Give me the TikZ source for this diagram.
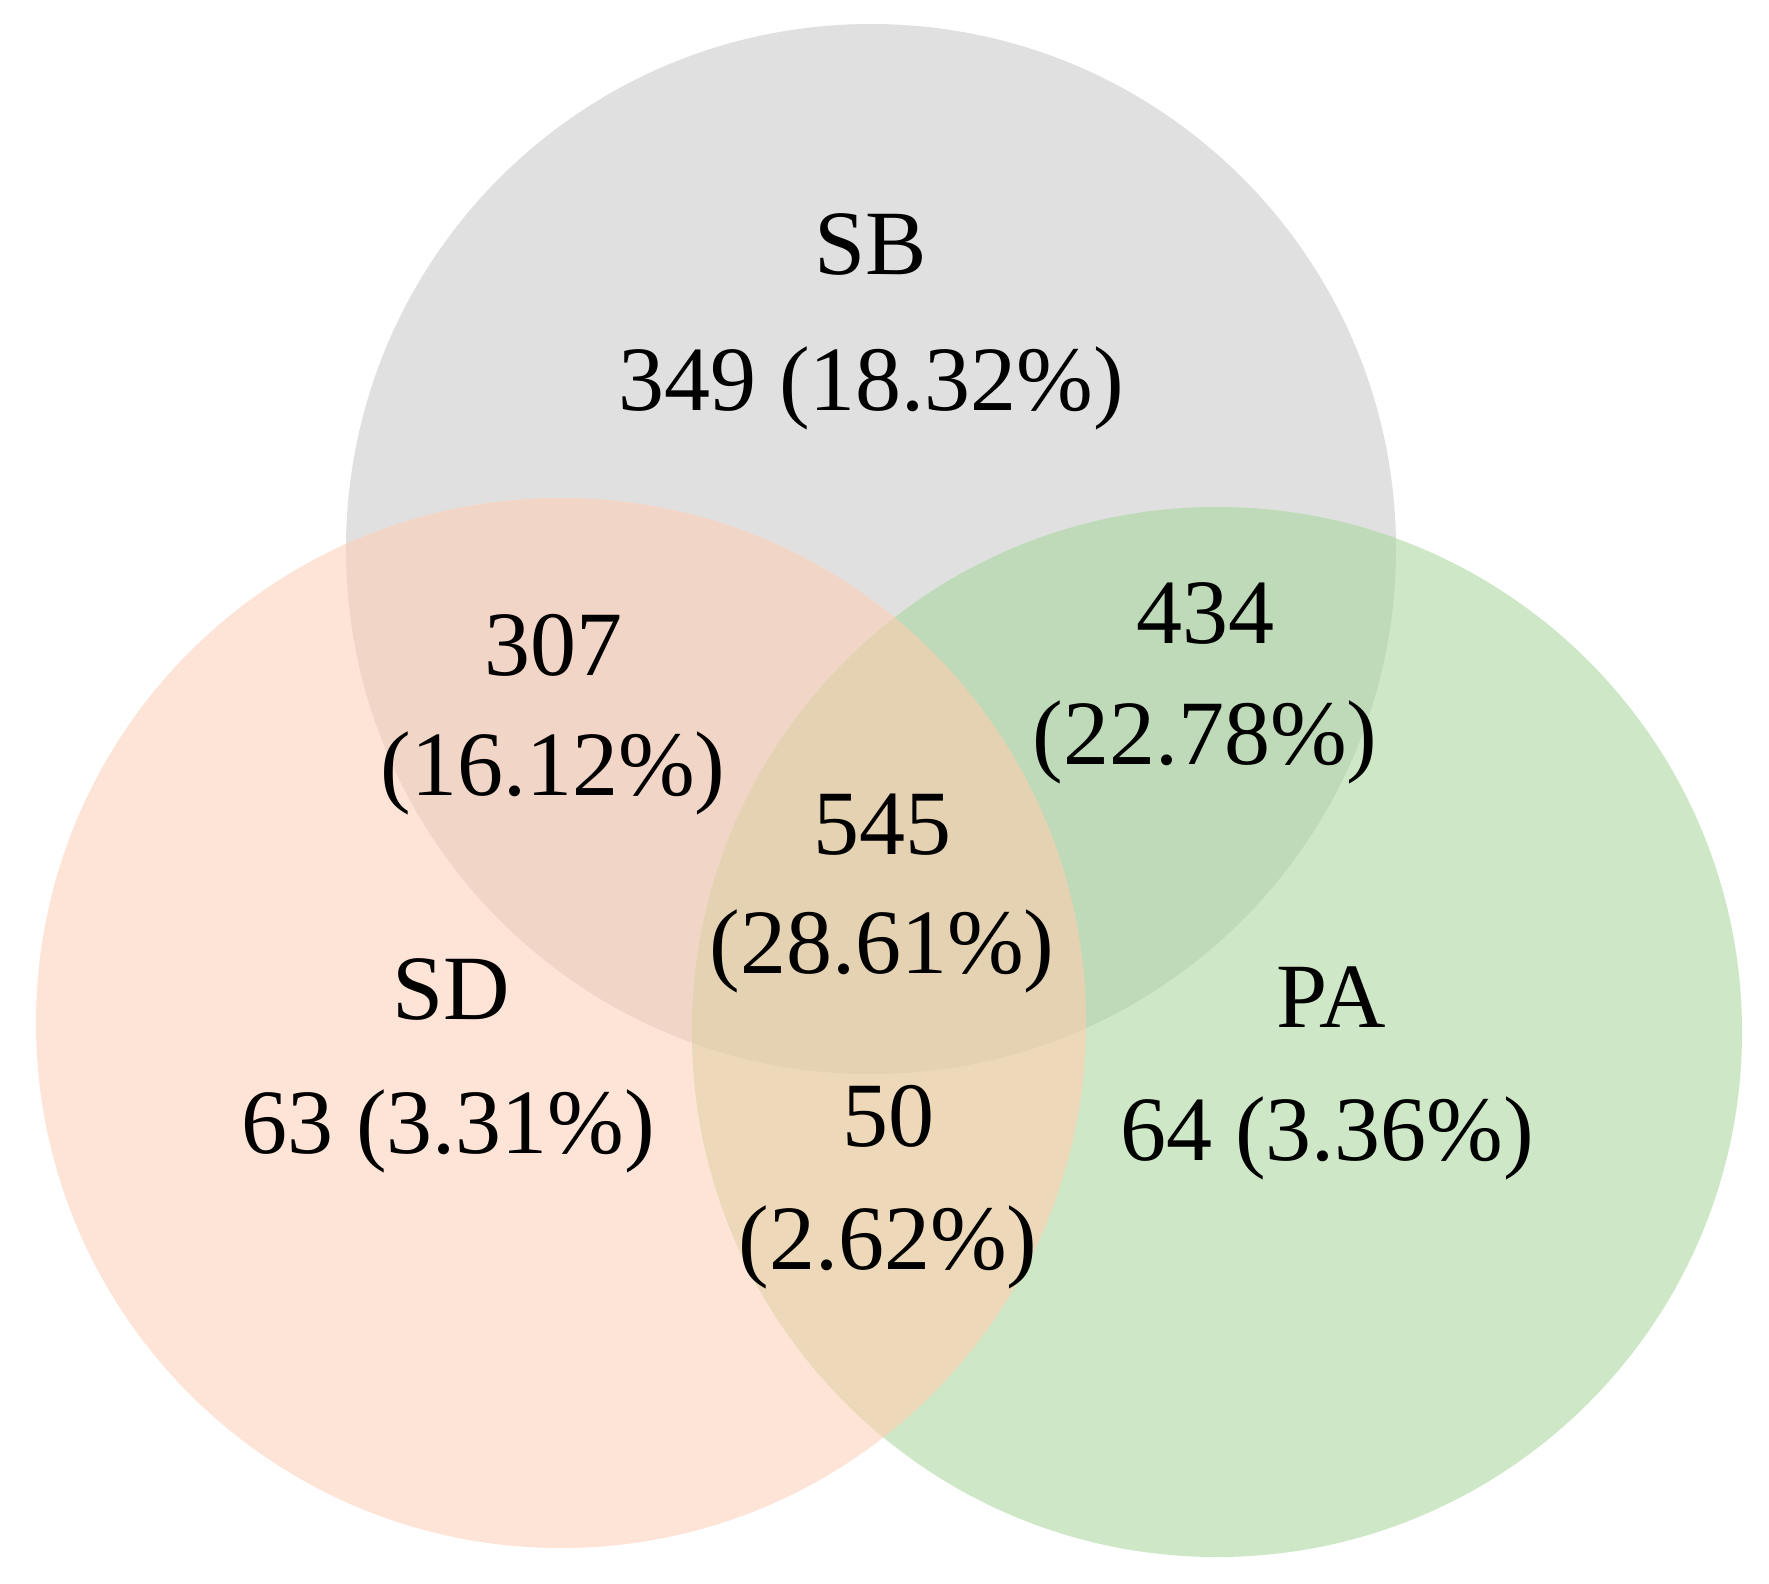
\documentclass[tikz,border=0pt]{standalone}
\usepackage{fontspec}
\setmainfont{Liberation Serif}
\definecolor{cgray}{HTML}{E0E0E0}
\definecolor{corange}{HTML}{FDE4D6}
\definecolor{cgreen}{HTML}{CEE8C7}
\definecolor{cSBSD}{HTML}{F1D5C7}
\definecolor{cSBPA}{HTML}{BEDAB8}
\definecolor{cSDPA}{HTML}{EDD9B9}
\definecolor{cALL}{HTML}{E4D2B3}
\begin{document}
\begin{tikzpicture}[x=1pt,y=-1pt,
  lbl/.style={anchor=base, inner sep=0pt, font=\fontsize{92}{110}\selectfont, text=black}]
\useasboundingbox (0,0) rectangle (1769,1583);
\fill[white] (0,0) rectangle (1769,1583);
\coordinate (cSB) at (871,549);
\coordinate (cSD) at (561,1023);
\coordinate (cPA) at (1217,1032);
\fill[cgray] (cSB) circle[radius=525pt];
\fill[corange] (cSD) circle[radius=525pt];
\fill[cgreen] (cPA) circle[radius=525pt];
\begin{scope}
  \clip (cSB) circle[radius=525pt];
  \fill[cSBSD] (cSD) circle[radius=525pt];
\end{scope}
\begin{scope}
  \clip (cSB) circle[radius=525pt];
  \fill[cSBPA] (cPA) circle[radius=525pt];
\end{scope}
\begin{scope}
  \clip (cSD) circle[radius=525pt];
  \fill[cSDPA] (cPA) circle[radius=525pt];
\end{scope}
\begin{scope}
  \clip (cSB) circle[radius=525pt];
  \clip (cSD) circle[radius=525pt];
  \fill[cALL] (cPA) circle[radius=525pt];
\end{scope}
\node[lbl] (sbname) at (871,274) {SB};
\node[lbl] (sbval) at (871,410) {349 (18.32\%)};
\node[lbl] (sbsd1) at (553,675) {307};
\node[lbl] (sbsd2) at (553,795) {(16.12\%)};
\node[lbl] (sbpa1) at (1205,643) {434};
\node[lbl] (sbpa2) at (1205,764) {(22.78\%)};
\node[lbl] (all1) at (882,854) {545};
\node[lbl] (all2) at (882,973) {(28.61\%)};
\node[lbl] (sdname) at (451,1019) {SD};
\node[lbl] (sdval) at (448,1153) {63 (3.31\%)};
\node[lbl] (paname) at (1331,1027) {PA};
\node[lbl] (paval) at (1327,1160) {64 (3.36\%)};
\node[lbl] (sdpa1) at (888,1146) {50};
\node[lbl] (sdpa2) at (888,1269) {(2.62\%)};
\end{tikzpicture}
\end{document}
